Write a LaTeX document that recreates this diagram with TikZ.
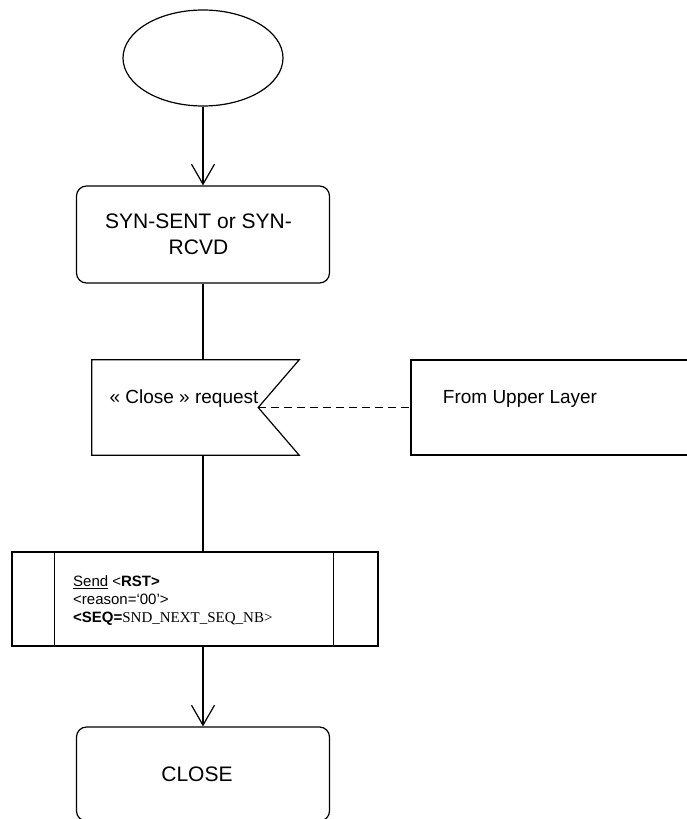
\documentclass[tikz,border=0pt]{standalone}
\usepackage{fontspec}
\setmainfont{Liberation Sans}
\newfontfamily\serifx{Liberation Serif}
\usetikzlibrary{shapes.geometric,arrows.meta}
\tikzset{
  ln/.style={line width=1.2pt},
  flow/.style={ln,-{Straight Barb[length=20pt,width=23pt,line width=1.2pt]}},
  statebox/.style={ln,draw,rectangle,rounded corners=10pt,minimum width=253pt,minimum height=97pt,inner sep=0pt,align=center,font=\fontsize{21}{26}\selectfont},
  bigtxt/.style={inner sep=0pt,font=\fontsize{19}{24}\selectfont},
  smalltxt/.style={inner sep=0pt,align=left,font=\fontsize{15}{18}\selectfont},
}
\begin{document}
\begin{tikzpicture}[x=1pt,y=-1pt]
\useasboundingbox (0,0) rectangle (687,819);
\clip (0,0) rectangle (687,819);
% start ellipse
\node[ln,draw,ellipse,minimum width=160pt,minimum height=96pt,inner sep=0pt] (start) at (203,58) {};
% state box
\node[statebox] (state) at (203,234.5) {SYN-SENT or SYN-\hspace*{9pt}\\RCVD\hspace*{9pt}};
% input signal shape
\node[minimum width=207pt,minimum height=95pt,inner sep=0pt] (req) at (195.5,407.5) {};
\coordinate (notch) at ([xshift=-41pt]req.east);
\draw[ln,line join=miter] (req.north west) -- (req.north east) -- (notch) -- (req.south east) -- (req.south west) -- cycle;
\node[bigtxt,anchor=base] (reqlbl) at (184,403) {« Close » request};
% upper layer box (clipped on the right)
\node[ln,draw,rectangle,minimum width=300pt,minimum height=95pt,inner sep=0pt] (upper) at (561,407.5) {};
\node[bigtxt,anchor=base] (upperlbl) at (520,403) {From Upper Layer};
% send box
\node[ln,draw,rectangle,minimum width=366pt,minimum height=94pt,inner sep=0pt] (send) at (195,599) {};
\draw[ln] ([xshift=43pt]send.north west) -- ([xshift=43pt]send.south west);
\draw[ln] ([xshift=-45pt]send.north east) -- ([xshift=-45pt]send.south east);
\node[smalltxt,anchor=west] (sendtxt) at (73,601) {\underline{Send} <\textbf{RST>}\\<reason=‘00’>\\\textbf{<SEQ=}{\serifx SND\_NEXT\_SEQ\_NB>}};
% close box
\node[statebox,minimum height=94pt] (close) at (203,774) {CLOSE\hspace*{12pt}};
% connectors
\draw[flow] (start.south) -- (state.north);
\draw[ln] (state.south) -- (state.south |- req.north);
\draw[ln] (state.south |- req.south) -- (state.south |- send.north);
\draw[flow] (state.south |- send.south) -- (close.north);
\draw[ln,dash pattern=on 8pt off 5pt] (notch) -- (upper.west);
\end{tikzpicture}
\end{document}
